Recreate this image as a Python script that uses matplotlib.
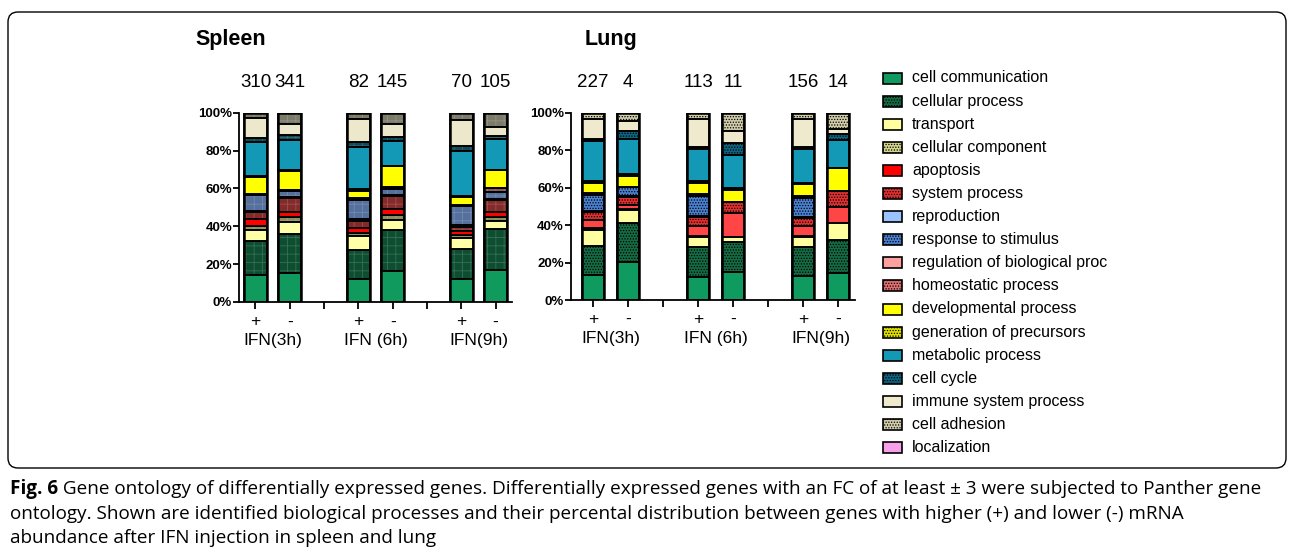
import matplotlib.pyplot as plt
import matplotlib.transforms as mtransforms
from matplotlib.patches import FancyBboxPatch, Rectangle

plt.rcParams['font.family'] = ['Liberation Sans', 'DejaVu Sans']
plt.rcParams['hatch.linewidth'] = 0.6

categories = ["cell communication", "cellular process", "transport", "cellular component",
              "apoptosis", "system process", "reproduction", "response to stimulus",
              "regulation of biological proc", "homeostatic process", "developmental process",
              "generation of precursors", "metabolic process", "cell cycle",
              "immune system process", "cell adhesion", "localization"]

time_labels = ["IFN(3h)", "IFN (6h)", "IFN(9h)"]
sign_labels = ["+", "-"]
spleen_counts = [310, 341, 82, 145, 70, 105]
lung_counts = [227, 4, 113, 11, 156, 14]

# percent of genes per category (bottom to top, same order as categories)
spleen_3h_up = [14.3, 18.0, 5.6, 2.1, 3.6, 4.2, 0.5, 8.0, 0, 1.0, 8.5, 1.0, 17.6, 2.2, 10.6, 2.8, 0]
spleen_3h_dn = [15.3, 20.8, 6.1, 2.7, 2.8, 7.1, 0.5, 3.6, 0, 0.5, 9.7, 0.5, 15.9, 2.8, 5.5, 6.2, 0]
spleen_6h_up = [12.0, 15.7, 7.0, 1.8, 2.5, 3.9, 1.2, 10.0, 0, 0.7, 3.6, 1.2, 22.1, 3.0, 11.8, 3.5, 0]
spleen_6h_dn = [16.4, 21.9, 4.9, 3.0, 2.7, 7.0, 0.5, 3.4, 0, 1.0, 11.0, 0, 13.2, 2.3, 6.7, 6.0, 0]
spleen_9h_up = [12.3, 15.9, 5.7, 1.4, 2.0, 2.2, 1.3, 10.0, 0, 0.4, 4.4, 0.4, 23.9, 2.5, 13.7, 3.9, 0]
spleen_9h_dn = [17.1, 21.7, 3.9, 2.3, 2.6, 6.5, 0.4, 3.7, 0, 1.8, 10.0, 0, 15.9, 1.7, 5.0, 7.4, 0]

lung_3h_up = [13.3, 15.5, 8.6, 0.9, 4.4, 4.5, 0.5, 8.4, 0, 1.0, 5.5, 1.1, 21.3, 0.8, 10.6, 3.6, 0]
lung_3h_dn = [20.5, 20.8, 6.7, 0.5, 2.2, 4.1, 0.9, 4.8, 0, 0, 5.7, 1.1, 18.5, 4.6, 5.3, 4.3, 0]
lung_6h_up = [12.5, 15.6, 5.4, 0.7, 5.3, 4.6, 0.5, 10.9, 0, 1.0, 6.1, 1.1, 16.7, 1.1, 14.9, 3.6, 0]
lung_6h_dn = [15.1, 16.0, 2.7, 0, 12.5, 6.2, 0, 0, 0, 0, 6.2, 0.9, 17.8, 6.6, 6.4, 9.6, 0]
lung_9h_up = [12.8, 15.7, 5.3, 0.5, 5.4, 4.1, 0.5, 10.0, 0, 1.2, 6.4, 0.8, 17.7, 1.3, 14.7, 3.6, 0]
lung_9h_dn = [14.2, 17.8, 8.9, 0, 8.9, 8.6, 0, 0, 0, 0, 11.9, 0, 15.1, 3.2, 2.5, 8.9, 0]

spleen_bars = [spleen_3h_up, spleen_3h_dn, spleen_6h_up, spleen_6h_dn, spleen_9h_up, spleen_9h_dn]
lung_bars = [lung_3h_up, lung_3h_dn, lung_6h_up, lung_6h_dn, lung_9h_up, lung_9h_dn]

lung_colors = ["#0f9a60", "#156c44", "#ffffa0", "#d4d48c", "#ff4545", "#e03030", "#99c4ff",
               "#4a80d0", "#ffa0a0", "#e07070", "#ffff00", "#e0e000", "#1398b5", "#0e6480",
               "#efeacd", "#d0ccaa", "#f5a0e8"]
legend_colors = list(lung_colors)
legend_colors[4] = "#ff0000"
spleen_colors = ["#119a5e", "#0d4d30", "#ffffa8", "#8c8c60", "#ff0000", "#852a2a", "#99c4ff",
                 "#55709c", "#ffa0a0", "#8c5a5a", "#ffff00", "#9c9c40", "#1398b5", "#0e4a58",
                 "#ede8cc", "#7c7a68", "#f5a0e8"]
textured = [False, True, False, True, False, True, False, True, False, True, False, True,
            False, True, False, True, False]

positions = [0, 1, 3, 4, 6, 7]

fig = plt.figure(figsize=(12.92, 5.52), dpi=100)

# overlay in pixel coordinates for border, legend and caption
ov = fig.add_axes([0, 0, 1, 1], zorder=-1)
ov.set_xlim(0, 1292)
ov.set_ylim(552, 0)
ov.axis('off')
ov.add_patch(FancyBboxPatch((8, 12), 1278, 456, boxstyle="round,pad=0,rounding_size=10",
                            facecolor='none', edgecolor='black', linewidth=1.0))


def draw_panel(rect, bars, counts, colors, hatch, hatch_color, width, xlim, title, title_x):
    ax = fig.add_axes(rect)
    ax.set_facecolor('none')
    for x, vals, n in zip(positions, bars, counts):
        bottom = 0
        for v, c, tex in zip(vals, colors, textured):
            if v <= 0:
                continue
            ax.bar(x, v, width, bottom=bottom, color=c, linewidth=0, zorder=2)
            if tex:
                ax.bar(x, v, width, bottom=bottom, color='none', edgecolor=hatch_color,
                       linewidth=0, hatch=hatch, zorder=3)
            ax.bar(x, v, width, bottom=bottom, color='none', edgecolor='black',
                   linewidth=1.2, zorder=4)
            bottom += v
        ax.bar(x, bottom, width, color='none', edgecolor='black', linewidth=1.8, zorder=5)
        trans = mtransforms.blended_transform_factory(ax.transData, ax.transAxes)
        ax.text(x, 1.16, str(n), transform=trans, ha='center', va='center', fontsize=13.5)
    trans = mtransforms.blended_transform_factory(ax.transData, ax.transAxes)
    for i, x in enumerate(positions):
        ax.text(x, -0.105, sign_labels[i % 2], transform=trans, ha='center', va='center',
                fontsize=12.5)
    for i, lab in enumerate(time_labels):
        ax.text(positions[2 * i] + 0.5, -0.205, lab, transform=trans, ha='center',
                va='center', fontsize=12.5)
    ax.set_xlim(*xlim)
    ax.set_ylim(0, 100)
    ax.set_xticks(range(8))
    ax.set_xticklabels([])
    ax.set_yticks([0, 20, 40, 60, 80, 100])
    ax.set_yticklabels([f"{v}%" for v in [0, 20, 40, 60, 80, 100]], fontsize=9.5,
                       fontweight='bold')
    ax.tick_params(axis='x', length=5, width=1.3, pad=2)
    ax.tick_params(axis='y', length=4, width=1.3, pad=1)
    for s in ['top', 'right']:
        ax.spines[s].set_visible(False)
    for s in ['left', 'bottom']:
        ax.spines[s].set_linewidth(1.3)
    ov.text(title_x, 40, title, ha='center', va='center', fontsize=15.5, fontweight='bold')
    return ax


draw_panel([0.185, 0.4529, 0.2113, 0.3429], spleen_bars, spleen_counts, spleen_colors,
           '++', (1, 1, 1, 0.18), 0.67, (-0.48, 7.48), "Spleen", 231)
draw_panel([0.4417, 0.4565, 0.2200, 0.3393], lung_bars, lung_counts, lung_colors,
           '......', 'black', 0.64, (-0.64, 7.48), "Lung", 611)

# legend
for i, (cat, c, tex) in enumerate(zip(categories, legend_colors, textured)):
    y = 78 + i * 23.1
    ov.add_patch(Rectangle((883, y - 5.5), 19, 11, facecolor=c, edgecolor='none'))
    if tex:
        ov.add_patch(Rectangle((883, y - 5.5), 19, 11, facecolor='none', edgecolor='black',
                               linewidth=0, hatch='......'))
    ov.add_patch(Rectangle((883, y - 5.5), 19, 11, facecolor='none', edgecolor='black',
                           linewidth=1.2))
    ov.text(912, y, cat, ha='left', va='center', fontsize=11.5)

# caption
cap_font = ['Open Sans', 'DejaVu Sans']
cap_size = 13.6
t0 = ov.text(10, 489, "Fig. 6", ha='left', va='center', fontsize=cap_size, fontweight='bold',
             family=cap_font)
ov.annotate(" Gene ontology of differentially expressed genes. Differentially expressed genes "
            "with an FC of at least \u00b1 3 were subjected to Panther gene",
            xy=(1, 0.5), xycoords=t0, ha='left', va='center', fontsize=cap_size, family=cap_font)
ov.text(10, 514, "ontology. Shown are identified biological processes and their percental "
        "distribution between genes with higher (+) and lower (-) mRNA",
        ha='left', va='center', fontsize=cap_size, family=cap_font)
ov.text(10, 538, "abundance after IFN injection in spleen and lung", ha='left', va='center',
        fontsize=cap_size, family=cap_font)

fig.savefig("out.png", dpi=100)
